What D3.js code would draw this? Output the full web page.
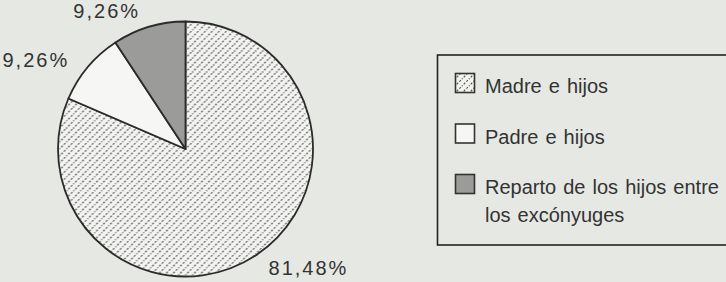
<!DOCTYPE html>
<html>
<head>
<meta charset="utf-8">
<script src="https://cdn.jsdelivr.net/npm/d3@7"></script>
<style>
  html, body { margin: 0; padding: 0; background: #e5e8e3; }
  svg { display: block; font-family: 'Liberation Sans', Arial, sans-serif; }
</style>
</head>
<body>
<div class="chart"></div>
<script>
const CATEGORIES = ['Madre e hijos', 'Padre e hijos', 'Reparto de los hijos entre los excónyuges']
const VALUES = [81.48, 9.26, 9.26]
const PCT_LABELS = ['81,48%', '9,26%', '9,26%']
const LEGEND_LINES = [['Madre e hijos'], ['Padre e hijos'], ['Reparto de los hijos entre', 'los excónyuges']]

const WIDTH = 726
const HEIGHT = 282
const BG = '#e5e8e3'
const FILLS = ['url(#hatch)', '#f6f7f4', '#9b9c99']
const INK = '#2b2b2b'

// small nudges for the percentage labels, in pixels
const LABEL_NUDGE = [[1.5, 11], [-5, 6], [0, 1]]

const svg = d3.select('.chart').append('svg')
  .attr('width', WIDTH)
  .attr('height', HEIGHT)

svg.append('rect').attr('width', WIDTH).attr('height', HEIGHT).attr('fill', BG)

const defs = svg.append('defs')
const pat = defs.append('pattern')
  .attr('id', 'hatch')
  .attr('patternUnits', 'userSpaceOnUse')
  .attr('width', 7)
  .attr('height', 7)
pat.append('rect').attr('width', 7).attr('height', 7).attr('fill', '#f3f4f1')
pat.append('path')
  .attr('d', 'M-1,8 L8,-1 M-4,4 L4,-4 M3,11 L11,3')
  .attr('stroke', '#555653')
  .attr('stroke-width', 1.1)
  .attr('stroke-dasharray', '2.2 1.6')

// pie
const cx = 185.5
const cy = 149
const radius = 127.5

const pie = d3.pie().sort(null).value(d => d)
const arcs = pie(VALUES)
const arc = d3.arc().innerRadius(0).outerRadius(radius)
const labelArc = d3.arc().innerRadius(radius + 10).outerRadius(radius + 10)

const g = svg.append('g').attr('transform', `translate(${cx},${cy})`)

g.selectAll('path.slice')
  .data(arcs)
  .enter().append('path')
  .attr('class', 'slice')
  .attr('d', arc)
  .attr('fill', (d, i) => FILLS[i])
  .attr('stroke', INK)
  .attr('stroke-width', 1.8)
  .attr('stroke-linejoin', 'round')

g.selectAll('text.pct')
  .data(arcs)
  .enter().append('text')
  .attr('class', 'pct')
  .attr('x', (d, i) => {
    const [x] = labelArc.centroid(d)
    return x + (x < 0 ? -6 : 6) + LABEL_NUDGE[i][0]
  })
  .attr('y', (d, i) => labelArc.centroid(d)[1] + LABEL_NUDGE[i][1])
  .attr('text-anchor', d => labelArc.centroid(d)[0] < 0 ? 'end' : 'start')
  .attr('font-size', 20)
  .attr('letter-spacing', 2)
  .attr('fill', '#333')
  .text((d, i) => PCT_LABELS[i])

// legend
const legend = svg.append('g').attr('class', 'legend')
legend.append('rect')
  .attr('x', 437.5)
  .attr('y', 55)
  .attr('width', 320)
  .attr('height', 190)
  .attr('fill', 'none')
  .attr('stroke', '#222')
  .attr('stroke-width', 1.6)

const rowY = d3.scaleLinear().domain([0, 2]).range([93, 194])

const items = legend.selectAll('g.item')
  .data(CATEGORIES)
  .enter().append('g')
  .attr('class', 'item')
  .attr('transform', (d, i) => `translate(0,${rowY(i)})`)

items.append('rect')
  .attr('x', 455.5)
  .attr('y', -19.5)
  .attr('width', 19)
  .attr('height', 19)
  .attr('fill', (d, i) => FILLS[i])
  .attr('stroke', '#333')
  .attr('stroke-width', 1.6)

items.append('text')
  .attr('x', 485)
  .attr('y', 0)
  .attr('font-size', 20)
  .attr('fill', '#333')
  .attr('word-spacing', 1.5)
  .selectAll('tspan')
  .data((d, i) => LEGEND_LINES[i])
  .enter().append('tspan')
  .attr('x', 485)
  .attr('dy', (d, j) => j === 0 ? 0 : 28)
  .text(d => d)
</script>
</body>
</html>
